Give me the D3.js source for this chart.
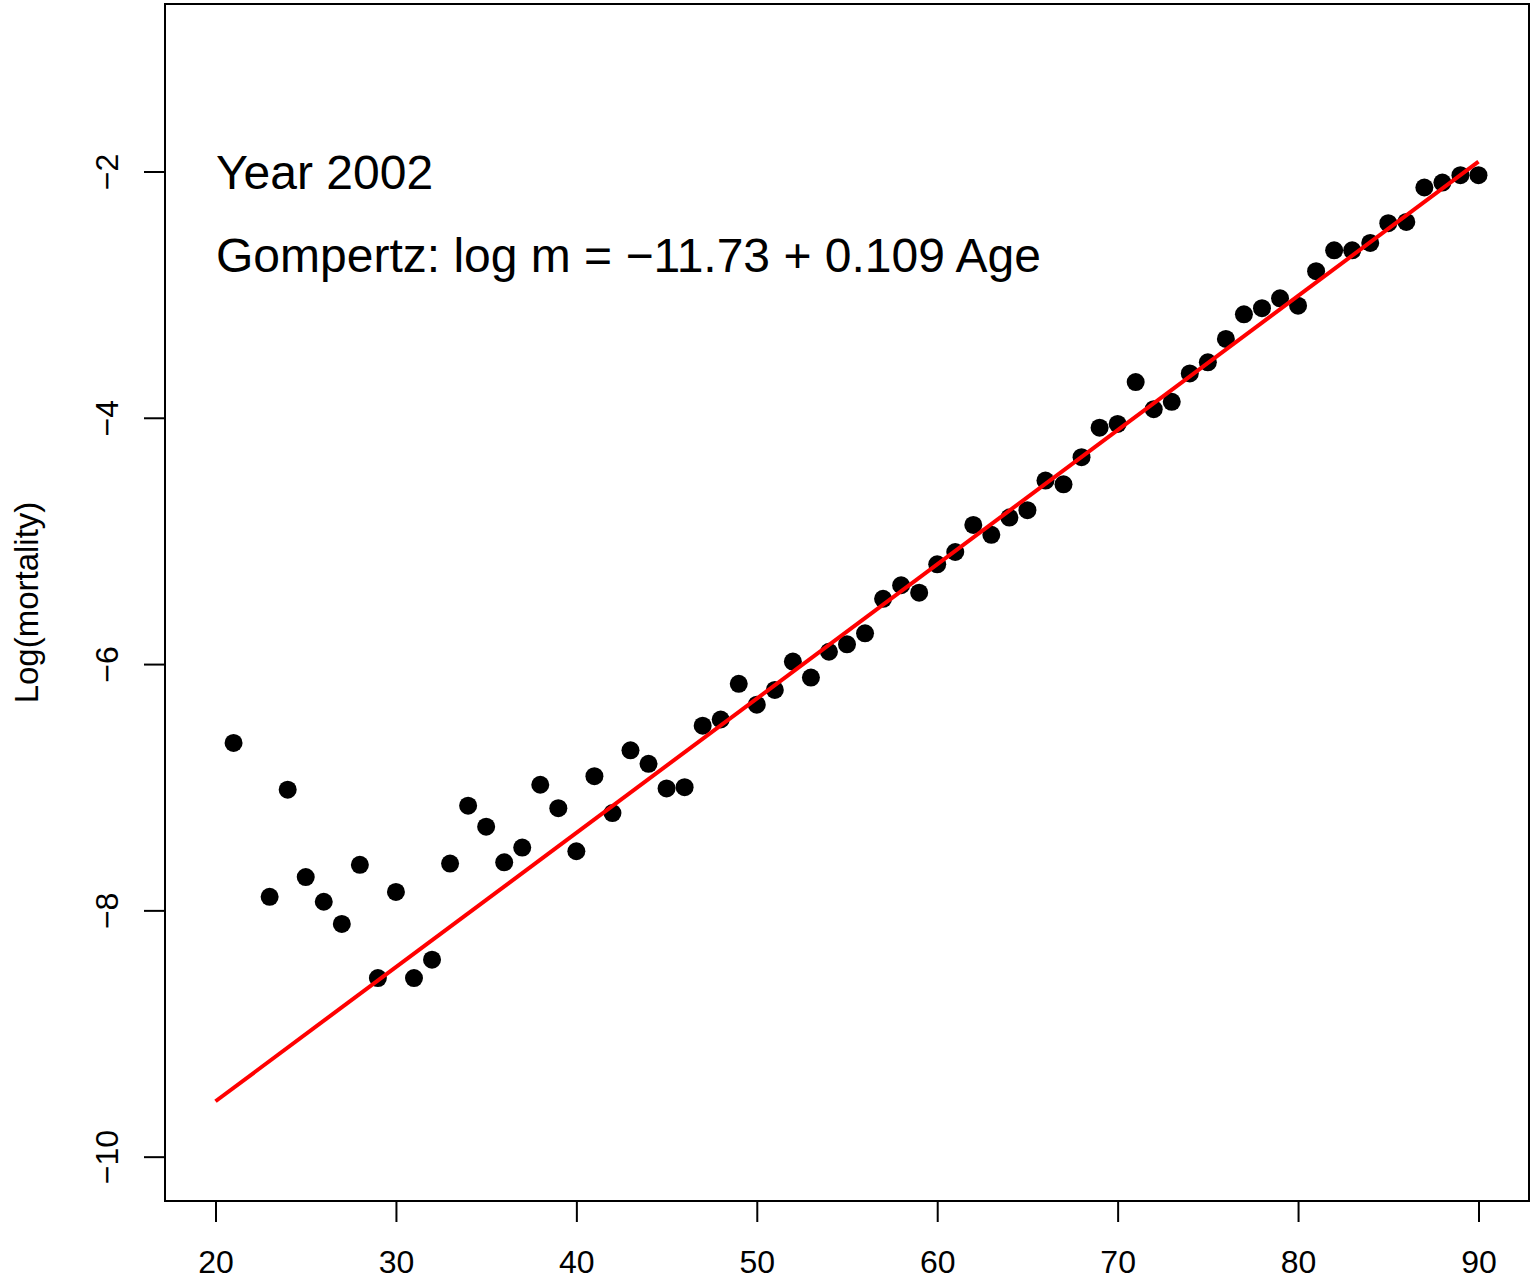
<!DOCTYPE html>
<html>
<head>
<meta charset="utf-8">
<script src="https://cdn.jsdelivr.net/npm/d3@7"></script>
<style>
  html, body { margin: 0; padding: 0; background: #fff; }
  svg { display: block; font-family: "Liberation Sans", Arial, Helvetica, sans-serif; }
</style>
</head>
<body>
<svg id="chart" width="1531" height="1282"></svg>
<script>
// ---- data ----
const ages = [21, 23, 24, 25, 26, 27, 28, 29, 30, 31, 32, 33, 34, 35, 36, 37, 38, 39, 40,
  41, 42, 43, 44, 45, 46, 47, 48, 49, 50, 51, 52, 53, 54, 55, 56, 57, 58, 59, 60,
  61, 62, 63, 64, 65, 66, 67, 68, 69, 70, 71, 72, 73, 74, 75, 76, 77, 78, 79, 80,
  81, 82, 83, 84, 85, 86, 87, 88, 89, 90];
const logMortality = [-6.64, -7.89, -7.02, -7.73, -7.93, -8.11, -7.63, -8.55, -7.85, -8.55, -8.40, -7.62, -7.15, -7.32, -7.61, -7.49, -6.98, -7.17, -7.52,
  -6.91, -7.21, -6.70, -6.81, -7.01, -7.00, -6.50, -6.45, -6.16, -6.33, -6.21, -5.98, -6.11, -5.90, -5.84, -5.75, -5.47, -5.36, -5.42, -5.19,
  -5.09, -4.87, -4.95, -4.81, -4.75, -4.51, -4.54, -4.32, -4.08, -4.05, -3.71, -3.93, -3.87, -3.64, -3.55, -3.36, -3.16, -3.11, -3.03, -3.09,
  -2.81, -2.64, -2.64, -2.58, -2.42, -2.41, -2.13, -2.09, -2.03, -2.03];
const fitIntercept = -11.73;
const fitSlope = 0.109;
const fitRange = [20, 90];
const xTicks = [20, 30, 40, 50, 60, 70, 80, 90];
const yTicks = [-2, -4, -6, -8, -10];
const xlim = [20, 90];
const ylim = [-10, -1];
const titleText = "Year 2002";
const formulaText = "Gompertz: log m = \u221211.73 + 0.109 Age";
const yLabel = "Log(mortality)";

// ---- layout ----
const svg = d3.select("#chart");
const plot = { left: 165, right: 1529, top: 4, bottom: 1201 };
const ext = (r) => { const d = (r[1] - r[0]) * 0.04; return [r[0] - d, r[1] + d]; };

const x = d3.scaleLinear().domain(ext(xlim)).range([plot.left, plot.right]);
const y = d3.scaleLinear().domain(ext(ylim)).range([plot.bottom, plot.top]);

const fmt = (v) => (v < 0 ? "\u2212" + Math.abs(v) : String(v));

// box
svg.append("rect")
  .attr("x", plot.left).attr("y", plot.top)
  .attr("width", plot.right - plot.left).attr("height", plot.bottom - plot.top)
  .attr("fill", "none").attr("stroke", "#000").attr("stroke-width", 2);

// x axis
const xAxis = d3.axisBottom(x).tickValues(xTicks).tickSize(21).tickPadding(0).tickFormat(d => d);
const gx = svg.append("g").attr("transform", `translate(0,${plot.bottom})`).call(xAxis);
gx.select(".domain").attr("d", `M${x(xTicks[0])},0H${x(xTicks[xTicks.length-1])}`).attr("stroke-width", 2);
gx.selectAll(".tick line").attr("stroke-width", 2);
gx.selectAll(".tick text").attr("y", 0).attr("dy", null).attr("transform", "translate(0,72)")
  .attr("font-size", 32).attr("font-family", "Liberation Sans, Arial, sans-serif").attr("fill", "#000");

// y axis
const yAxis = d3.axisLeft(y).tickValues(yTicks).tickSize(21).tickPadding(0).tickFormat(fmt);
const gy = svg.append("g").attr("transform", `translate(${plot.left},0)`).call(yAxis);
gy.select(".domain").attr("d", `M0,${y(yTicks[yTicks.length-1])}V${y(yTicks[0])}`).attr("stroke-width", 2);
gy.selectAll(".tick line").attr("stroke-width", 2);
gy.selectAll(".tick text")
  .attr("x", null).attr("dy", null).attr("y", null)
  .attr("text-anchor", "middle")
  .attr("transform", "translate(-47,0) rotate(-90)")
  .attr("font-size", 32).attr("font-family", "Liberation Sans, Arial, sans-serif").attr("fill", "#000");

// y label
svg.append("text")
  .attr("transform", `translate(38,${(y(ylim[0]) + y(ylim[1])) / 2}) rotate(-90)`)
  .attr("text-anchor", "middle")
  .attr("font-size", 33)
  .attr("fill", "#000")
  .text(yLabel);

// points
svg.append("g").selectAll("circle")
  .data(ages.map((a, i) => ({ a, v: logMortality[i] })))
  .join("circle")
  .attr("cx", d => x(d.a))
  .attr("cy", d => y(d.v))
  .attr("r", 9)
  .attr("fill", "#000");

// fitted line
const line = d3.line().x(d => x(d)).y(d => y(fitIntercept + fitSlope * d));
svg.append("path")
  .attr("d", line(fitRange))
  .attr("fill", "none")
  .attr("stroke", "#ff0000")
  .attr("stroke-width", 4);

// annotations
svg.append("text").attr("x", 216).attr("y", 189).attr("font-size", 48).attr("fill", "#000").text(titleText);
svg.append("text").attr("x", 216).attr("y", 272).attr("font-size", 48).attr("fill", "#000").text(formulaText);
</script>
</body>
</html>
